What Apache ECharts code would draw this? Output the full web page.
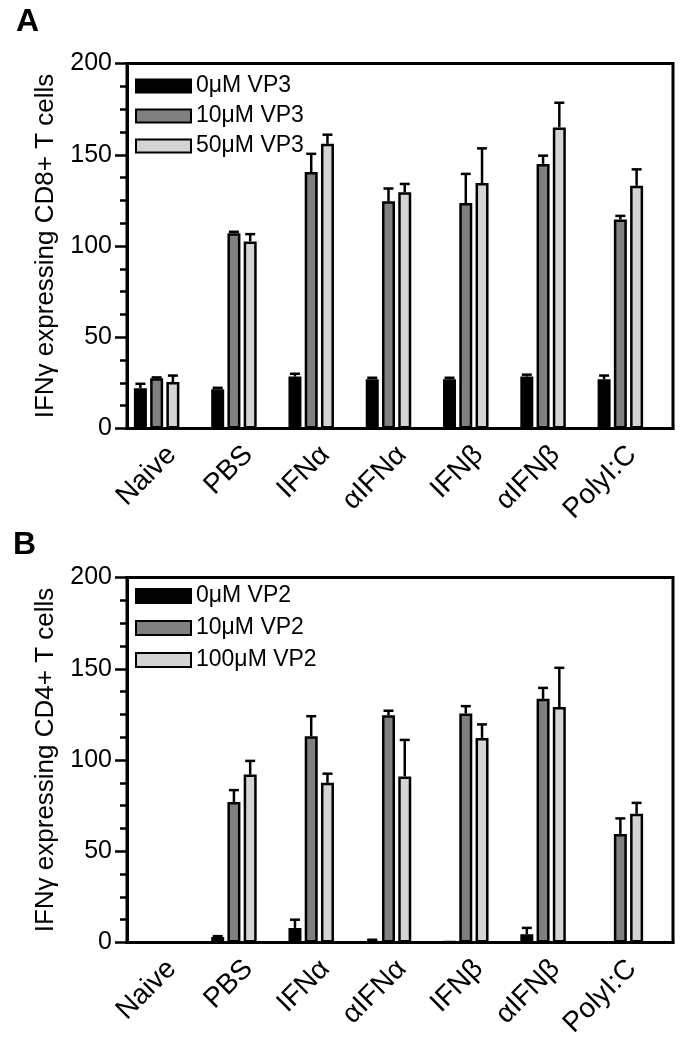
<!DOCTYPE html>
<html>
<head>
<meta charset="utf-8">
<script src="https://cdn.jsdelivr.net/npm/echarts@6/dist/echarts.min.js"></script>
<style>
html,body{margin:0;padding:0;background:#fff;}
#chart{width:687px;height:1041px;}
</style>
</head>
<body>
<div id="chart"></div>
<script>
// ---- data ----
const categories = ['Naive', 'PBS', 'IFNα', 'αIFNα', 'IFNβ', 'αIFNβ', 'PolyI:C'];
const yTicks = [0, 50, 100, 150, 200];

const namesA = ['0μM VP3', '10μM VP3', '50μM VP3'];
const a0 = [22, 21.5, 28.5, 27, 27, 28.5, 27];
const a0err = [2.5, 0.8, 1.5, 0.8, 0.8, 1, 2];
const a10 = [27.5, 107, 140.5, 124.5, 123.5, 145, 114.5];
const a10err = [0.5, 0.8, 10, 7, 16, 4.5, 2];
const a50 = [25.5, 102.5, 156, 129.5, 134.5, 165, 133];
const a50err = [3.5, 4, 5, 4.5, 19, 13.5, 9];

const namesB = ['0μM VP2', '10μM VP2', '100μM VP2'];
const b0 = [0.3, 3, 8, 1.2, 0.5, 4.5, 0];
const b0err = [0, 0.5, 4.5, 0.3, 0, 3.5, 0];
const b10 = [0, 77, 113, 124.5, 125.5, 133.5, 59.5];
const b10err = [0, 6.5, 11, 2.5, 4, 6, 8.5];
const b100 = [0, 92, 87.5, 91, 112, 129, 70.5];
const b100err = [0, 7.5, 5, 20, 7.5, 21.5, 6];

const titleA = 'IFNγ expressing CD8+ T cells';
const titleB = 'IFNγ expressing CD4+ T cells';

// ---- style ----
const FONT = 'Liberation Sans, Arial, sans-serif';
const colors = ['#000000', '#808080', '#d4d4d4'];
const BAR_W = 13, GAP = 0.25;
const OFFSET = BAR_W * (1 + GAP);

const chart = echarts.init(document.getElementById('chart'), null, {renderer: 'canvas'});

function frameGrid(top) { return {left: 127, top: top, width: 546, height: 365, show: true, borderColor: '#000', borderWidth: 3, backgroundColor: 'transparent'}; }
function barGrid(top) { return {left: 118, top: top, width: 541, height: 365}; }
function labelGrid(top) { return {left: 133.5, top: top, width: 537, height: 365}; }

function frameX(gi) {
  return {type: 'category', gridIndex: gi, data: categories,
    axisLine: {lineStyle: {color: '#000', width: 3}}, axisTick: {show: false},
    axisLabel: {show: false}};
}
function labelX(gi) {
  return {type: 'category', gridIndex: gi, data: categories,
    axisLine: {show: false}, axisTick: {show: false}, splitLine: {show: false},
    axisLabel: {rotate: 45, interval: 0, fontSize: 28, color: '#000', fontFamily: FONT, margin: 22}};
}
function hiddenX(gi) { return {type: 'category', gridIndex: gi, data: categories, show: false}; }
function frameY(gi, name) {
  return {type: 'value', gridIndex: gi, min: yTicks[0], max: yTicks[yTicks.length - 1], interval: 50,
    name: name, nameLocation: 'middle', nameGap: 68,
    nameTextStyle: {fontSize: 26, color: '#000', fontFamily: FONT},
    axisLine: {show: true, lineStyle: {color: '#000', width: 3}},
    axisTick: {show: true, length: 12, lineStyle: {color: '#000', width: 2.5}},
    minorTick: {show: true, splitNumber: 4, length: 7, lineStyle: {color: '#000', width: 2.5}},
    splitLine: {show: false},
    axisLabel: {fontSize: 25, color: '#000', fontFamily: FONT, margin: 15}};
}
function hiddenY(gi) { return {type: 'value', gridIndex: gi, min: 0, max: 200, show: false}; }

function barSeries(name, data, k, ai) {
  return {type: 'bar', name: name, data: data, xAxisIndex: ai, yAxisIndex: ai,
    barWidth: BAR_W, barGap: (GAP * 100) + '%',
    itemStyle: {color: colors[k], borderColor: '#000', borderWidth: 2.5}};
}
function errSeries(vals, errs, k, ai) {
  const data = vals.map((v, i) => [i, v, errs[i]]);
  return {type: 'custom', name: 'err' + ai + '_' + k, xAxisIndex: ai, yAxisIndex: ai, z: 5,
    data: data,
    renderItem: function (params, api) {
      const e = api.value(2);
      if (!(e > 0)) return null;
      const c = api.value(0), v = api.value(1);
      const p0 = api.coord([c, v]);
      const p1 = api.coord([c, v + e]);
      const x = p0[0] + (k - 1) * OFFSET;
      const st = {stroke: '#000', lineWidth: 2.5};
      return {type: 'group', children: [
        {type: 'line', shape: {x1: x, y1: p0[1], x2: x, y2: p1[1]}, style: st},
        {type: 'line', shape: {x1: x - 5, y1: p1[1], x2: x + 5, y2: p1[1]}, style: st}
      ]};
    }};
}

const legendText = {fontSize: 23, color: '#000', fontFamily: FONT, lineHeight: 23};

const option = {
  animation: false,
  backgroundColor: '#fff',
  grid: [frameGrid(63.5), barGrid(63.5), frameGrid(577.5), barGrid(577.5), labelGrid(63.5), labelGrid(577.5)],
  xAxis: [frameX(0), hiddenX(1), frameX(2), hiddenX(3), labelX(4), labelX(5)],
  yAxis: [frameY(0, titleA), hiddenY(1), frameY(2, titleB), hiddenY(3), hiddenY(4), hiddenY(5)],
  legend: [
    {data: namesA, orient: 'vertical', left: 135, top: 74.5, padding: 0, itemWidth: 55, itemHeight: 13, itemGap: 7,
      icon: 'rect', textStyle: legendText, selectedMode: false},
    {data: namesB, orient: 'vertical', left: 135, top: 584.5, padding: 0, itemWidth: 55, itemHeight: 14, itemGap: 9,
      icon: 'rect', textStyle: legendText, selectedMode: false}
  ],
  graphic: [
    {type: 'text', left: 16, top: 6, style: {text: 'A', fontSize: 32, fontWeight: 'bold', fill: '#000', fontFamily: FONT}},
    {type: 'text', left: 13, top: 529, style: {text: 'B', fontSize: 32, fontWeight: 'bold', fill: '#000', fontFamily: FONT}}
  ],
  series: [
    barSeries(namesA[0], a0, 0, 1), barSeries(namesA[1], a10, 1, 1), barSeries(namesA[2], a50, 2, 1),
    errSeries(a0, a0err, 0, 1), errSeries(a10, a10err, 1, 1), errSeries(a50, a50err, 2, 1),
    barSeries(namesB[0], b0, 0, 3), barSeries(namesB[1], b10, 1, 3), barSeries(namesB[2], b100, 2, 3),
    errSeries(b0, b0err, 0, 3), errSeries(b10, b10err, 1, 3), errSeries(b100, b100err, 2, 3)
  ]
};
chart.setOption(option);
</script>
</body>
</html>
